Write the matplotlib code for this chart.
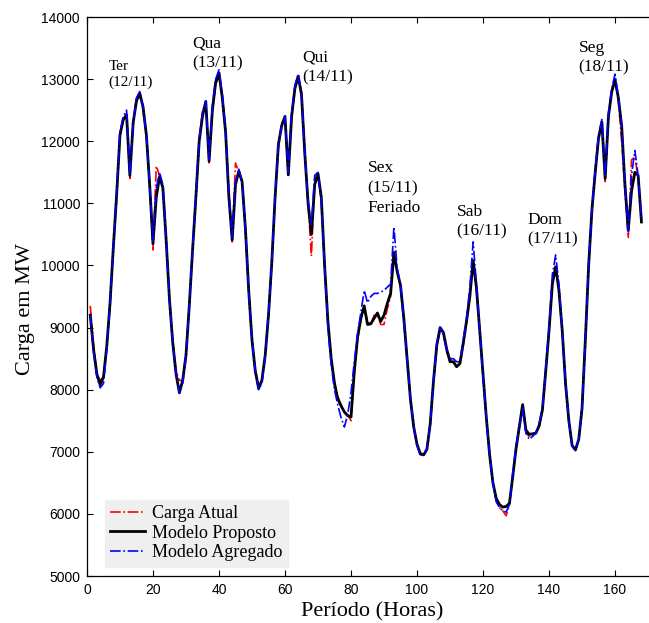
import matplotlib
matplotlib.use("Agg")
import matplotlib.pyplot as plt

# hourly load, 12/11 to 18/11 (168 h)
horas = list(range(1, 169))

carga_atual = [
    9350, 8700, 8250, 8150, 8200, 8700, 9350, 10250, 11100, 12100, 12350, 12450,
    11400, 12300, 12700, 12780, 12500, 12100, 11300, 10250, 11600, 11450, 11250, 10400,
    9450, 8800, 8300, 8150, 8150, 8600, 9350, 10250, 11050, 12000, 12500, 12600,
    11650, 12500, 12900, 13050, 12750, 12150, 11150, 10380, 11650, 11500, 11350, 10600,
    9600, 8800, 8300, 8100, 8150, 8550, 9200, 10050, 11050, 11900, 12300, 12350,
    11450, 12350, 12850, 13000, 12800, 11800, 11000, 10150, 11400, 11450, 11050, 10000,
    9050, 8500, 8100, 7900, 7750, 7650, 7600, 7500, 8250, 8800, 9150, 9300,
    9100, 9050, 9200, 9200, 9050, 9050, 9300, 9500, 10250, 9900, 9650, 9100,
    8500, 7850, 7400, 7100, 6950, 6950, 7050, 7450, 8100, 8700, 8950, 8900,
    8600, 8500, 8450, 8450, 8450, 8700, 9100, 9550, 10050, 9600, 8950, 8200,
    7550, 6950, 6500, 6200, 6100, 6050, 5970, 6150, 6600, 7050, 7400, 7750,
    7300, 7250, 7250, 7300, 7400, 7650, 8300, 8950, 9750, 9980, 9600, 8900,
    8100, 7500, 7100, 7050, 7200, 7700, 8800, 10000, 10900, 11550, 12100, 12250,
    11350, 12400, 12800, 12950, 12650, 12000, 11200, 10450, 11700, 11750, 11400, 10750,
]

modelo_proposto = [
    9200, 8650, 8250, 8080, 8200, 8700, 9400, 10300, 11150, 12100, 12350, 12420,
    11450, 12300, 12650, 12770, 12550, 12100, 11300, 10350, 11100, 11430, 11250, 10400,
    9450, 8750, 8250, 7950, 8150, 8550, 9350, 10250, 11100, 12000, 12400, 12640,
    11680, 12500, 12950, 13100, 12700, 12150, 11100, 10410, 11300, 11520, 11350, 10600,
    9600, 8800, 8300, 8020, 8150, 8550, 9200, 10050, 11100, 11950, 12250, 12400,
    11460, 12400, 12850, 13050, 12750, 11800, 11000, 10500, 11300, 11480, 11100, 10000,
    9100, 8500, 8100, 7850, 7740, 7640, 7580, 7560, 8300, 8850, 9150, 9350,
    9050, 9060, 9150, 9235, 9100, 9200, 9390, 9550, 10200, 9900, 9680, 9150,
    8500, 7850, 7400, 7120, 6970, 6950, 7040, 7450, 8150, 8720, 9000, 8920,
    8650, 8450, 8450, 8370, 8420, 8750, 9100, 9500, 10080, 9650, 8950, 8250,
    7550, 6950, 6500, 6250, 6150, 6110, 6120, 6170, 6600, 7050, 7400, 7760,
    7350, 7280, 7290, 7300, 7420, 7680, 8300, 8950, 9700, 9980, 9600, 8950,
    8100, 7500, 7100, 7030, 7200, 7700, 8800, 10000, 10900, 11500, 12050, 12310,
    11400, 12400, 12800, 12990, 12700, 12250, 11300, 10570, 11200, 11500, 11450, 10700,
]

modelo_agregado = [
    9200, 8600, 8200, 8030, 8100, 8650, 9400, 10300, 11200, 12150, 12400, 12500,
    11450, 12300, 12700, 12800, 12550, 12100, 11300, 10400, 11250, 11500, 11300, 10400,
    9450, 8750, 8250, 7950, 8100, 8550, 9350, 10300, 11150, 12050, 12450, 12650,
    11700, 12600, 13000, 13150, 12750, 12150, 11150, 10450, 11350, 11550, 11350, 10600,
    9600, 8800, 8300, 8000, 8100, 8550, 9200, 10050, 11100, 11950, 12250, 12400,
    11500, 12450, 12900, 13080, 12750, 11800, 11050, 10650, 11450, 11500, 11050, 10000,
    9000, 8400, 8000, 7750, 7550, 7400, 7600, 7950, 8450, 8900, 9250, 9600,
    9400, 9500, 9550, 9550, 9570, 9600, 9650, 9700, 10620, 9950, 9700, 9100,
    8500, 7850, 7400, 7100, 6950, 6950, 7050, 7450, 8150, 8750, 9000, 8900,
    8650, 8500, 8500, 8450, 8450, 8800, 9150, 9650, 10380, 9700, 8950, 8200,
    7550, 6950, 6500, 6200, 6100, 6050, 6030, 6150, 6650, 7100, 7400, 7700,
    7300, 7200, 7250, 7300, 7450, 7700, 8350, 9000, 9850, 10170, 9700, 8950,
    8100, 7500, 7100, 7020, 7200, 7700, 8800, 10000, 10900, 11550, 12100, 12350,
    11450, 12450, 12850, 13080, 12700, 12250, 11300, 10550, 11450, 11850, 11450, 10750,
]

# day annotations: (text, x, y, fontsize, linespacing)
dias = [
    ("Ter\n(12/11)", 6.5, 13315, 11, 1.3),
    ("Qua\n(13/11)", 32.0, 13703, 12.5, 1.3),
    ("Qui\n(14/11)", 65.2, 13477, 12.5, 1.3),
    ("Sex\n(15/11)\nFeriado", 85.0, 11695, 12.5, 1.34),
    ("Sab\n(16/11)", 112.0, 10990, 12.5, 1.3),
    ("Dom\n(17/11)", 133.4, 10860, 12.5, 1.3),
    ("Seg\n(18/11)", 149.0, 13633, 12.5, 1.3),
]

SERIF = ["Liberation Serif", "DejaVu Serif"]

fig = plt.figure(figsize=(6.49, 6.23), dpi=100)
# axes runs past the right edge of the picture (cropped like the original)
ax = fig.add_axes([0.134, 0.0754, 0.8798, 0.8973])

ax.plot(horas, carga_atual, color="#ff0000", linestyle="-.", linewidth=1.2, label="Carga Atual")
ax.plot(horas, modelo_proposto, color="black", linestyle="-", linewidth=2.0, label="Modelo Proposto")
ax.plot(horas, modelo_agregado, color="#0000ff", linestyle="-.", linewidth=1.2, label="Modelo Agregado")

for txt, x, y, fs, ls in dias:
    ax.text(x, y, txt, ha="left", va="top", fontsize=fs, family=SERIF, linespacing=ls)

ax.set_xlim(0, 173)
ax.set_ylim(5000, 14000)
ax.set_xticks(range(0, 161, 20))
ax.set_yticks(range(5000, 14001, 1000))
ax.tick_params(direction="in", top=True, right=True, length=4, width=0.8,
               labelsize=10, pad=5)
for lab in ax.get_xticklabels() + ax.get_yticklabels():
    lab.set_family(["Liberation Sans", "DejaVu Sans"])
for sp in ax.spines.values():
    sp.set_linewidth(0.9)

ax.set_xlabel("Período (Horas)", fontsize=16, family=SERIF)
ax.set_ylabel("Carga em MW", fontsize=16, family=SERIF)
ax.xaxis.set_label_coords(0.5, -0.047)
ax.yaxis.set_label_coords(-0.091, 0.478)

leg = ax.legend(loc="lower left", bbox_to_anchor=(0.025, 0.01), prop={"family": SERIF, "size": 13},
                frameon=True, fancybox=False, handlelength=1.9, handletextpad=0.4,
                borderpad=0.3, labelspacing=0.15, borderaxespad=0.2)
leg.get_frame().set_facecolor("#efefef")
leg.get_frame().set_edgecolor("#efefef")
leg.get_frame().set_alpha(1.0)

fig.savefig("out.png", dpi=100)
